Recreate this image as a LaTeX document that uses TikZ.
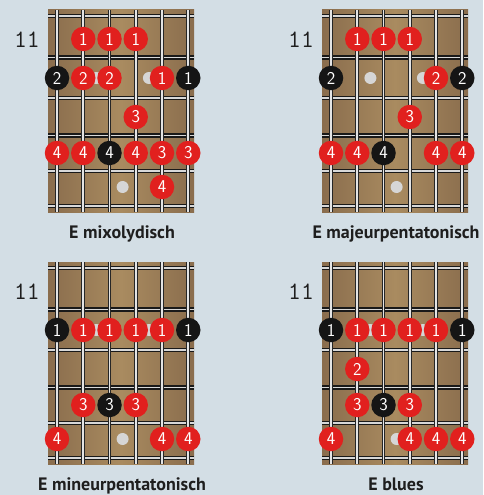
\documentclass[tikz,border=0pt]{standalone}
\usepackage{fontspec}
\newfontfamily\titlefont{PT Sans}
\definecolor{bg}{HTML}{D3DEE5}
\definecolor{wood}{HTML}{A98B60}
\definecolor{woodedge}{HTML}{8A6D4D}
\definecolor{nred}{HTML}{E1201E}
\definecolor{nblack}{HTML}{151515}
\definecolor{inlay}{HTML}{D6D6D6}
\definecolor{fretgray}{HTML}{D8D8D8}
\definecolor{strgray}{HTML}{E4E4E4}
\definecolor{txt}{HTML}{1E1E1E}
\tikzset{
  note/.style={circle, inner sep=0pt, minimum size=24.5pt, text=white,
    font=\sffamily\fontsize{18}{18}\selectfont},
  rednote/.style={note, fill=nred},
  blacknote/.style={note, fill=nblack},
  inlaydot/.style={circle, fill=inlay, inner sep=0pt, minimum size=12pt},
  fretdark/.style={line width=4.4pt, black!90},
  fretlight/.style={line width=1.5pt, fretgray},
  strdark/.style={line width=3.6pt, black!85},
  strlight/.style={line width=1.7pt, strgray},
  fretnum/.style={font=\ttfamily\fontsize{25}{25}\selectfont, text=txt, inner sep=0pt},
  title/.style={font=\titlefont\bfseries\fontsize{18}{18}\selectfont, text=txt, inner sep=0pt, anchor=base}
}
\newcommand\rowy[1]{\ifcase#1\or39\or78\or117\or153\or187\fi}
\newcommand\strx[1]{\ifcase#1\or57\or83.25\or109.5\or135.75\or162\or188.25\fi}
\newcommand\nt[5]{\node[#2note] (#1) at (\strx{#3},\rowy{#4}) {#5};}
\newcommand\fboard[3]{%
  \shade[left color=woodedge, right color=woodedge, middle color=wood] (48,10) rectangle (194,212);
  \foreach \y in {16,57.5,98,135.5,171,206} {
    \draw[fretdark] (48,\y) -- (194,\y);
    \draw[fretlight] (48,\y) -- (194,\y);
  }
  \foreach \i in {0,...,5} {
    \draw[strdark] (57+26.25*\i,10) -- (57+26.25*\i,212);
    \draw[strlight] (57+26.25*\i,10) -- (57+26.25*\i,212);
  }
  \node[inlaydot] (#1i1) at (96.4,78) {};
  \node[inlaydot] (#1i2) at (148.9,78) {};
  \node[inlaydot] (#1i3) at (122.6,187) {};
  \node[fretnum] (#1num) at (27,39.5) {11};
  \node[title] (#1title) at (122,238.6) {#2};
  #3
}
\begin{document}
\begin{tikzpicture}[x=1pt,y=-1pt]
\useasboundingbox (0,0) rectangle (483,495);
\fill[bg] (0,0) rectangle (483,495);
% top left
\begin{scope}
\fboard{tl}{E mixolydisch}{%
  \nt{tla}{red}{2}{1}{1}\nt{tlb}{red}{3}{1}{1}\nt{tlc}{red}{4}{1}{1}
  \nt{tld}{black}{1}{2}{2}\nt{tle}{red}{2}{2}{2}\nt{tlf}{red}{3}{2}{2}
  \nt{tlg}{red}{5}{2}{1}\nt{tlh}{black}{6}{2}{1}
  \nt{tli}{red}{4}{3}{3}
  \nt{tlj}{red}{1}{4}{4}\nt{tlk}{red}{2}{4}{4}\nt{tll}{black}{3}{4}{4}
  \nt{tlm}{red}{4}{4}{4}\nt{tln}{red}{5}{4}{3}\nt{tlo}{red}{6}{4}{3}
  \nt{tlp}{red}{5}{5}{4}}
\end{scope}
% top right
\begin{scope}[shift={(274,0)}]
\fboard{tr}{E majeurpentatonisch}{%
  \nt{tra}{red}{2}{1}{1}\nt{trb}{red}{3}{1}{1}\nt{trc}{red}{4}{1}{1}
  \nt{trd}{black}{1}{2}{2}\nt{tre}{red}{5}{2}{2}\nt{trf}{black}{6}{2}{2}
  \nt{trg}{red}{4}{3}{3}
  \nt{trh}{red}{1}{4}{4}\nt{tri}{red}{2}{4}{4}\nt{trj}{black}{3}{4}{4}
  \nt{trk}{red}{5}{4}{4}\nt{trl}{red}{6}{4}{4}}
\end{scope}
% bottom left
\begin{scope}[shift={(0,252)}]
\fboard{bl}{E mineurpentatonisch}{%
  \nt{bla}{black}{1}{2}{1}\nt{blb}{red}{2}{2}{1}\nt{blc}{red}{3}{2}{1}
  \nt{bld}{red}{4}{2}{1}\nt{ble}{red}{5}{2}{1}\nt{blf}{black}{6}{2}{1}
  \nt{blg}{red}{2}{4}{3}\nt{blh}{black}{3}{4}{3}\nt{bli}{red}{4}{4}{3}
  \nt{blj}{red}{1}{5}{4}\nt{blk}{red}{5}{5}{4}\nt{bll}{red}{6}{5}{4}}
\end{scope}
% bottom right
\begin{scope}[shift={(274,252)}]
\fboard{br}{E blues}{%
  \nt{bra}{black}{1}{2}{1}\nt{brb}{red}{2}{2}{1}\nt{brc}{red}{3}{2}{1}
  \nt{brd}{red}{4}{2}{1}\nt{bre}{red}{5}{2}{1}\nt{brf}{black}{6}{2}{1}
  \nt{brg}{red}{2}{3}{2}
  \nt{brh}{red}{2}{4}{3}\nt{bri}{black}{3}{4}{3}\nt{brj}{red}{4}{4}{3}
  \nt{brk}{red}{1}{5}{4}\nt{brl}{red}{4}{5}{4}\nt{brm}{red}{5}{5}{4}\nt{brn}{red}{6}{5}{4}}
\end{scope}
\end{tikzpicture}
\end{document}
